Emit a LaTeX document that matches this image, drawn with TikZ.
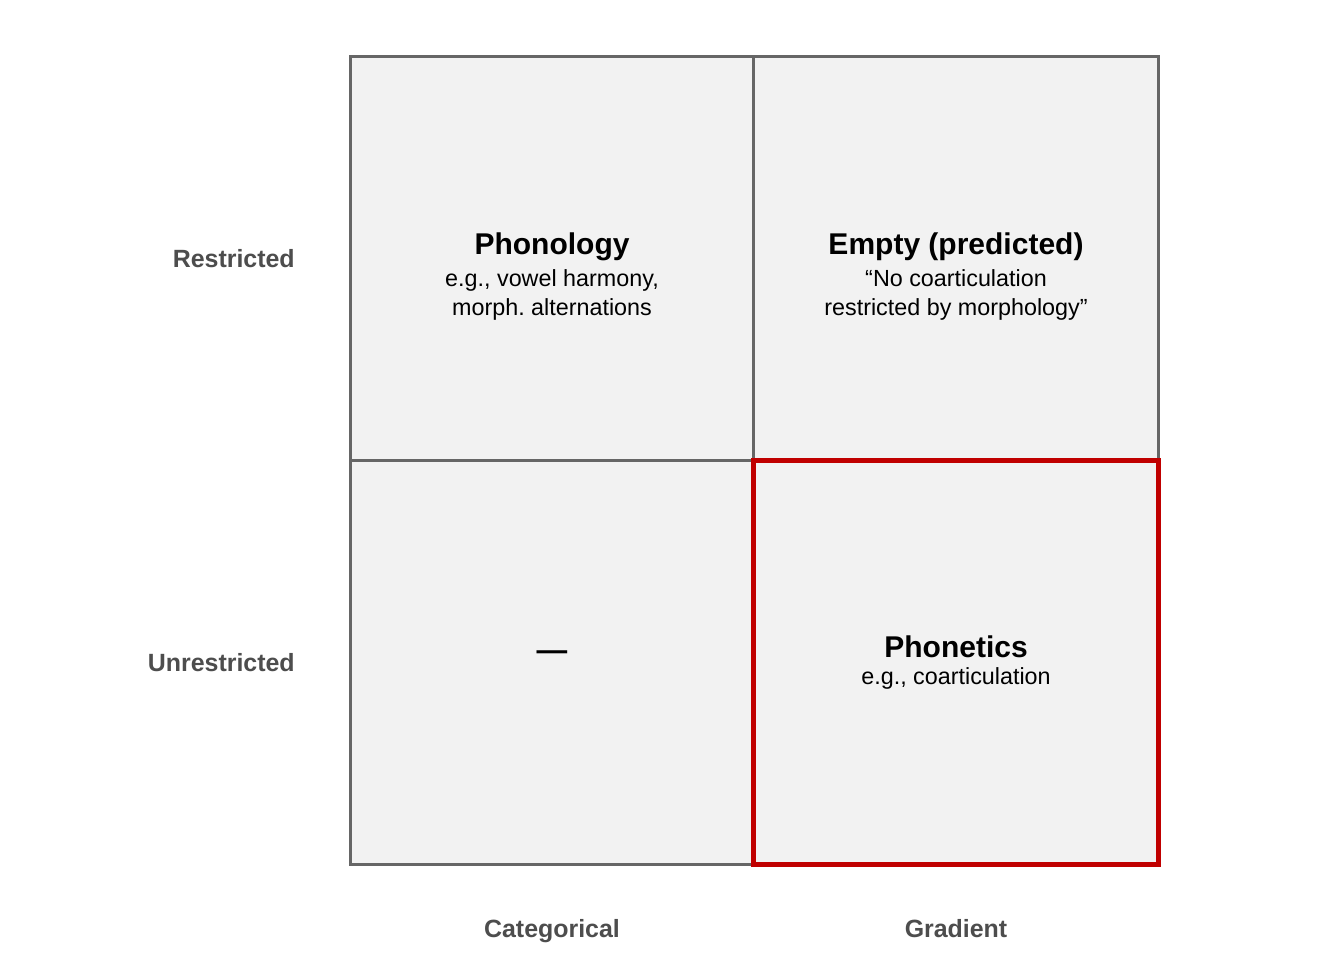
\documentclass[tikz,border=0pt]{standalone}
\usepackage{fontspec}
\setmainfont{Liberation Sans}
\frenchspacing
\definecolor{cellfill}{HTML}{F2F2F2}
\definecolor{gridline}{HTML}{666666}
\definecolor{hilite}{HTML}{C00000}
\definecolor{axislab}{HTML}{4D4D4D}
\begin{document}
\begin{tikzpicture}[x=0.75pt,y=-0.75pt,
  cellbox/.style={draw=gridline,fill=cellfill,line width=2.25pt},
  redbox/.style={draw=hilite,line width=3.75pt},
  celltitle/.style={anchor=base,inner sep=0pt,font=\fontsize{22.5}{27}\selectfont\bfseries},
  cellsub/.style={anchor=base,inner sep=0pt,align=center,font=\fontsize{17.5}{21.75}\selectfont},
  axisrow/.style={anchor=base east,inner sep=0pt,text=axislab,font=\fontsize{18.7}{22}\selectfont\bfseries},
  axiscol/.style={anchor=base,inner sep=0pt,text=axislab,font=\fontsize{18.7}{22}\selectfont\bfseries}]
\useasboundingbox (0,0) rectangle (1344,960);
\fill[white] (0,0) rectangle (1344,960);
% cells
\draw[cellbox] (350,56) rectangle (753,460);
\draw[cellbox] (753,56) rectangle (1158,460);
\draw[cellbox] (350,460) rectangle (753,864);
\draw[cellbox] (753,460) rectangle (1158,864);
\draw[redbox] (753,460) rectangle (1158,864);
% cell texts (multi-line nodes: base = baseline of last line)
\node[celltitle] (phonT) at (552,254) {Phonology};
\node[cellsub] (phonS) at (552,315) {e.g., vowel harmony,\\morph. alternations};
\node[celltitle] (emptyT) at (956,254) {Empty (predicted)};
\node[cellsub] (emptyS) at (956,315) {“No coarticulation\\restricted by morphology”};
\node[inner sep=0pt,font=\fontsize{23}{27}\selectfont\bfseries] (dash) at (552,656) {—};
\node[celltitle] (phtT) at (956,657) {Phonetics};
\node[cellsub] (phtS) at (956,684) {e.g., coarticulation};
% axis labels
\node[axisrow] (rowA) at (295,267) {Restricted};
\node[axisrow] (rowB) at (295,671) {Unrestricted};
\node[axiscol] (colA) at (552,937) {Categorical};
\node[axiscol] (colB) at (956,937) {Gradient};
\end{tikzpicture}
\end{document}
